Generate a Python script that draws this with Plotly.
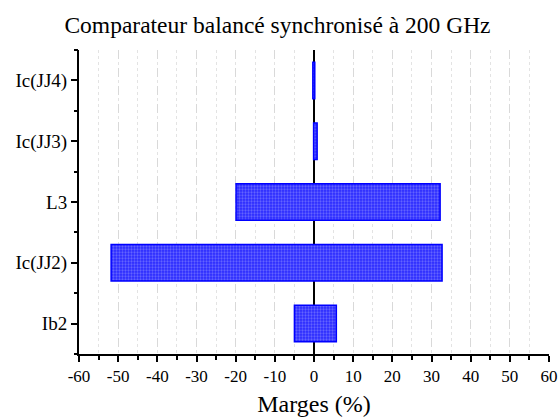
import plotly.graph_objects as go

categories = ["Ib2", "Ic(JJ2)", "L3", "Ic(JJ3)", "Ic(JJ4)"]
low_vals = [-5.0, -51.8, -19.9, -0.1, -0.3]
high_vals = [5.7, 32.7, 32.2, 0.8, 0.2]
x_tick_vals = [-60, -50, -40, -30, -20, -10, 0, 10, 20, 30, 40, 50, 60]
x_tick_text = ["-60", "-50", "-40", "-30", "-20", "-10", "0", "10", "20", "30", "40", "50", "60"]

widths = [h - l for h, l in zip(high_vals, low_vals)]

font_family = "Liberation Serif, Times New Roman, serif"

fig = go.Figure()
fig.add_trace(go.Bar(
    y=categories,
    x=widths,
    base=low_vals,
    orientation="h",
    width=0.6,
    marker=dict(
        color="#3a3aff",
        line=dict(color="#0000ff", width=1.5),
        pattern=dict(shape=".", size=3, solidity=0.45, fgcolor="#9c9cff", bgcolor="#2a2aff"),
    ),
    showlegend=False,
))

fig.update_layout(
    width=558, height=420,
    margin=dict(l=79, r=9, t=50, b=66),
    paper_bgcolor="white", plot_bgcolor="white",
    font=dict(family=font_family, color="black", size=17),
    title=dict(text="Comparateur balancé synchronisé à 200 GHz", x=277.5 / 558, xanchor="center",
               y=1 - 25 / 420, yanchor="middle", font=dict(size=23.5, family=font_family)),
)

fig.update_xaxes(
    range=[-60, 60], tickvals=x_tick_vals, ticktext=x_tick_text,
    automargin=False,
    showline=True, linecolor="black", linewidth=2,
    ticks="outside", ticklen=6, tickwidth=1.5, tickcolor="black",
    showgrid=True, gridcolor="#d9d9d9", gridwidth=1, griddash="dash",
    minor=dict(dtick=5, tick0=0, ticks="outside", ticklen=4, tickcolor="black", showgrid=True,
               gridcolor="#e3e3e3", griddash="dot"),
    zeroline=True, zerolinecolor="black", zerolinewidth=2,
    title=dict(text="Marges (%)", font=dict(size=24, family=font_family), standoff=10),
    tickfont=dict(size=17, family=font_family),
)

fig.update_yaxes(
    range=[-0.5, 4.5],
    automargin=False,
    showline=True, linecolor="black", linewidth=2,
    ticks="outside", ticklen=6, tickwidth=1.5, tickcolor="black",
    showgrid=False, zeroline=False,
    tickfont=dict(size=19, family=font_family),
)

# minor y ticks at category midpoints via an overlaying axis
fig.add_trace(go.Scatter(x=[None], y=[None], yaxis="y2", showlegend=False))
fig.update_layout(yaxis2=dict(
    overlaying="y", side="left", range=[-0.5, 4.5], tickvals=[-0.5, 0.5, 1.5, 2.5, 3.5, 4.5],
    ticks="outside", ticklen=4, tickwidth=1.5, tickcolor="black", showticklabels=False,
    showgrid=False, zeroline=False, showline=False, automargin=False,
))

fig.write_html(
    "out.html",
    config={"displayModeBar": False},
    post_script="document.body.style.margin='0';document.body.style.overflow='hidden';",
)
